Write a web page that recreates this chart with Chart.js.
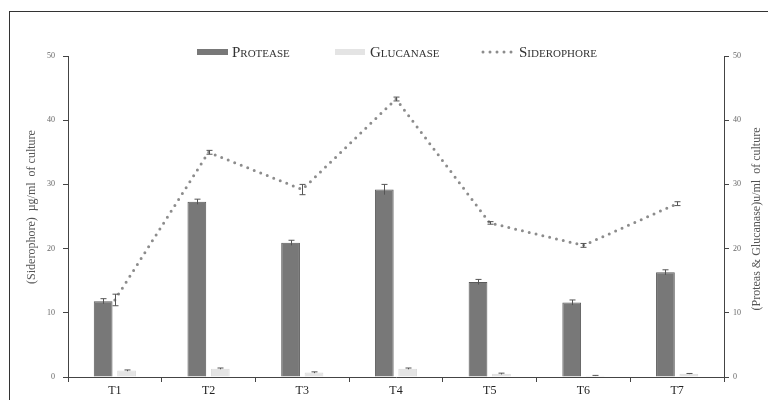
<!DOCTYPE html>
<html>
<head>
<meta charset="utf-8">
<script src="https://cdn.jsdelivr.net/npm/chart.js@4"></script>
<style>
  html, body { margin: 0; padding: 0; background: #fff; }
  #wrap { width: 768px; height: 400px; }
</style>
</head>
<body>
<div id="wrap"><canvas id="chart" width="768" height="400"></canvas></div>
<script>
const categories = ["T1", "T2", "T3", "T4", "T5", "T6", "T7"];
const protease = [11.8, 27.3, 20.9, 29.2, 14.8, 11.6, 16.3];
const proteaseErr = [0.4, 0.4, 0.4, 0.8, 0.4, 0.4, 0.4];
const glucanase = [1.0, 1.3, 0.7, 1.3, 0.5, 0.2, 0.5];
const glucanaseErr = [0.1, 0.1, 0.1, 0.1, 0.1, 0.05, 0.05];
const siderophore = [12.0, 35.0, 29.2, 43.3, 24.0, 20.5, 27.0];
const siderophoreErr = [0.9, 0.3, 0.8, 0.3, 0.2, 0.3, 0.3];
const axisMin = 0;
const axisMax = 50;
const axisStep = 10;

const leftTitle = "(Siderophore)  \u00b5g/ml  of culture";
const rightTitle = "(Proteas & Glucanase)u/ml  of culture";
const errors = [proteaseErr, glucanaseErr, siderophoreErr];

const FONT = "'Liberation Serif', 'Times New Roman', serif";

// error bars, drawn from each element's own position
const errorBars = {
  id: "errorBars",
  afterDatasetsDraw(chart) {
    const ctx = chart.ctx;
    ctx.save();
    ctx.strokeStyle = "#555";
    ctx.lineWidth = 1;
    chart.data.datasets.forEach((ds, i) => {
      const meta = chart.getDatasetMeta(i);
      const scale = chart.scales[meta.yAxisID];
      meta.data.forEach((el, j) => {
        const v = ds.data[j], e = errors[i][j];
        const x = Math.round(el.x) + 0.5;
        const yTop = scale.getPixelForValue(v + e);
        const yBot = scale.getPixelForValue(v - e);
        ctx.beginPath();
        ctx.moveTo(x, yTop); ctx.lineTo(x, yBot);
        ctx.moveTo(x - 3, yTop); ctx.lineTo(x + 3, yTop);
        if (i === 2) { ctx.moveTo(x - 3, yBot); ctx.lineTo(x + 3, yBot); }
        ctx.stroke();
      });
    });
    ctx.restore();
  }
};

// frame, rotated axis titles and legend
const decorations = {
  id: "decorations",
  afterDraw(chart) {
    const ctx = chart.ctx;
    ctx.save();
    ctx.strokeStyle = "#333";
    ctx.lineWidth = 1;
    ctx.strokeRect(9.5, 11.5, 800, 420);

    ctx.fillStyle = "#555";
    ctx.font = "12px " + FONT;
    ctx.textAlign = "center";
    ctx.textBaseline = "middle";
    [[leftTitle, 32, 207], [rightTitle, 757, 219]].forEach(([t, x, y]) => {
      ctx.save();
      ctx.translate(x, y);
      ctx.rotate(-Math.PI / 2);
      ctx.fillText(t, 0, 0);
      ctx.restore();
    });

    // legend
    const ds = chart.data.datasets;
    const items = [
      { x: 197, w: 31, tx: 232 },
      { x: 335, w: 30, tx: 370 },
      { x: 483, w: 32, tx: 519 }
    ];
    const ly = 52;
    ctx.font = "small-caps 15px " + FONT;
    ctx.textAlign = "left";
    items.forEach((it, i) => {
      const d = ds[i];
      if (d.type === "line") {
        ctx.save();
        ctx.strokeStyle = d.borderColor;
        ctx.lineWidth = d.borderWidth;
        ctx.lineCap = "round";
        ctx.setLineDash(d.borderDash);
        ctx.beginPath();
        ctx.moveTo(it.x, ly); ctx.lineTo(it.x + it.w, ly);
        ctx.stroke();
        ctx.restore();
      } else {
        ctx.fillStyle = d.backgroundColor;
        ctx.fillRect(it.x, ly - 3, it.w, 6);
      }
      ctx.fillStyle = "#333";
      ctx.fillText(d.label, it.tx, ly + 1);
    });
    ctx.restore();
  }
};

new Chart(document.getElementById("chart"), {
  type: "bar",
  data: {
    labels: categories,
    datasets: [
      {
        label: "Protease",
        data: protease,
        backgroundColor: "#787878",
        borderColor: "#5a5a5a",
        borderWidth: 1,
        yAxisID: "y1",
        order: 1
      },
      {
        label: "Glucanase",
        data: glucanase,
        backgroundColor: "#e4e4e4",
        borderColor: "#dadada",
        borderWidth: 1,
        yAxisID: "y1",
        order: 1
      },
      {
        type: "line",
        label: "Siderophore",
        data: siderophore,
        borderColor: "#8c8c8c",
        borderWidth: 3,
        borderDash: [0, 7],
        borderCapStyle: "round",
        pointRadius: 0,
        tension: 0,
        yAxisID: "y",
        order: 0
      }
    ]
  },
  options: {
    responsive: false,
    animation: false,
    layout: { padding: { top: 56, left: 0, right: 0, bottom: 0 } },
    datasets: {
      bar: { categoryPercentage: 0.5, barPercentage: 0.8 }
    },
    plugins: {
      legend: { display: false },
      tooltip: { enabled: false }
    },
    scales: {
      x: {
        grid: { drawOnChartArea: false, drawTicks: true, tickLength: 5, color: "#444", offset: true },
        border: { color: "#444" },
        ticks: { color: "#222", padding: 2, font: { family: FONT, size: 12 } },
        afterFit(s) { s.height = 23; }
      },
      y: {
        position: "left",
        min: axisMin, max: axisMax,
        grid: { drawOnChartArea: false, drawTicks: true, tickLength: 5, color: "#444" },
        border: { color: "#444" },
        ticks: { stepSize: axisStep, color: "#666", padding: 8, font: { family: FONT, size: 8 } },
        afterFit(s) { s.width = 68; }
      },
      y1: {
        position: "right",
        min: axisMin, max: axisMax,
        grid: { drawOnChartArea: false, drawTicks: true, tickLength: 5, color: "#444" },
        border: { color: "#444" },
        ticks: { stepSize: axisStep, color: "#666", padding: 4, font: { family: FONT, size: 8 } },
        afterFit(s) { s.width = 44; }
      }
    }
  },
  plugins: [errorBars, decorations]
});
</script>
</body>
</html>
